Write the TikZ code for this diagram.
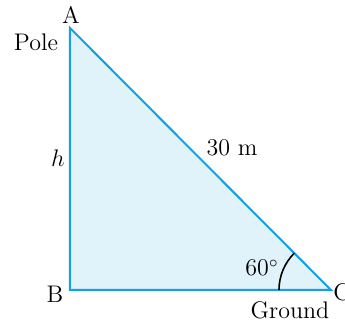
\documentclass[tikz,border=0pt]{standalone}
\usepackage{tikz}
\usetikzlibrary{positioning}
\definecolor{edgeblue}{RGB}{20,160,230}
\definecolor{fillblue}{RGB}{224,242,250}

\begin{document}
\begin{tikzpicture}[x=0.5pt, y=0.5pt, every node/.style={font=\large, inner sep=0pt},
  side/.style={draw=edgeblue, line width=1pt, line join=miter}]
 \useasboundingbox (0,0) rectangle (345,323);
 \coordinate (A) at (70,295);
 \coordinate (B) at (70,33);
 \coordinate (C) at (331,33);
 \fill[fillblue] (A) -- (B) -- (C) -- cycle;
 \draw[side] (A) -- (B) -- (C) -- cycle;
 \draw[line width=0.8pt] (C) ++(-52,0) arc[start angle=180, end angle=135, radius=52];
 \node (labA) at (71,308) {A};
 \node (pole) at (36,281) {Pole};
 \node (h) at (58,165) {$h$};
 \node (len) at (232,175) {30 m};
 \node (labB) at (55,29) {B};
 \node (ang) at (262,55) {60$^\circ$};
 \node (ground) at (290,13) {Ground};
 \node[anchor=west] (labC) at (333,31) {C};
\end{tikzpicture}
\end{document}
